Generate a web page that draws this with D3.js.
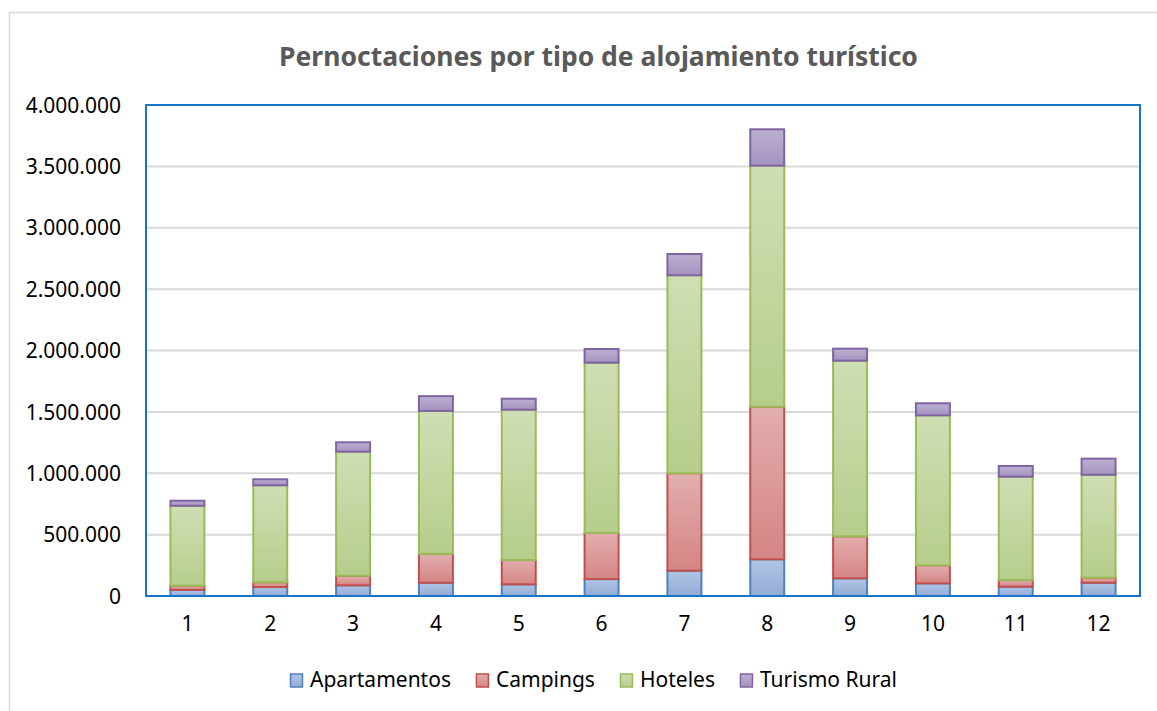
<!DOCTYPE html>
<html><head><meta charset="utf-8">
<script src="https://cdn.jsdelivr.net/npm/d3@7"></script>
<style>body{margin:0;background:#fff}svg{display:block}</style>
</head><body><svg id="c" width="1157" height="711"></svg>
<script>
const title = "Pernoctaciones por tipo de alojamiento turístico";
const months = ["1","2","3","4","5","6","7","8","9","10","11","12"];
const seriesNames = ["Apartamentos","Campings","Hoteles","Turismo Rural"];
const apartamentos = [50000,73000,87000,108000,95000,138000,206000,299000,144000,103000,76000,108000];
const campings     = [34000,39000,78000,235000,198000,375000,794000,1243000,342000,147000,54000,41000];
const hoteles      = [651000,790000,1011000,1165000,1225000,1388000,1613000,1964000,1431000,1222000,842000,839000];
const turismoRural = [41000,49000,76000,120000,89000,111000,173000,296000,98000,98000,87000,131000];
const yTicks = [0,500000,1000000,1500000,2000000,2500000,3000000,3500000,4000000];

const fills = [["#b0c4e3","#93acd7"],["#e2aeae","#d48584"],["#d0deb4","#b6cd8b"],["#bcb0d0","#a393bf"]];
const strokes = ["#4f81bd","#c0504d","#9bbb59","#8064a2"];
const FONT = "'Noto Sans', sans-serif";

const svg = d3.select("#c");
const defs = svg.append("defs");
fills.forEach((f,i)=>{
  const g = defs.append("linearGradient").attr("id","g"+i).attr("x1",0).attr("y1",0).attr("x2",0).attr("y2",1);
  g.append("stop").attr("offset","0%").attr("stop-color",f[0]);
  g.append("stop").attr("offset","100%").attr("stop-color",f[1]);
});

// outer frame
svg.append("rect").attr("x",9.5).attr("y",12.5).attr("width",1170).attr("height",720)
  .attr("fill","#fff").attr("stroke","#d9d9d9").attr("stroke-width",1.5);

const L=146, R=1140, T=105, B=596;
const x = d3.scaleBand().domain(months).range([L,R]).paddingInner(0.59).paddingOuter(0.295);
const y = d3.scaleLinear().domain([0,4000000]).range([B,T]);

// gridlines
svg.append("g").selectAll("line").data(yTicks.slice(1,-1)).join("line")
  .attr("x1",L).attr("x2",R).attr("y1",d=>y(d)).attr("y2",d=>y(d))
  .attr("stroke","#d9d9d9").attr("stroke-width",2);

// stacked data
const rows = months.map((m,i)=>({m, Apartamentos:apartamentos[i], Campings:campings[i], Hoteles:hoteles[i], "Turismo Rural":turismoRural[i]}));
const stack = d3.stack().keys(seriesNames)(rows);
stack.forEach((s,si)=>{
  svg.append("g").selectAll("rect").data(s).join("rect")
    .attr("x",d=>x(d.data.m)).attr("width",x.bandwidth())
    .attr("y",d=>y(d[1])).attr("height",d=>y(d[0])-y(d[1]))
    .attr("fill",`url(#g${si})`).attr("stroke",strokes[si]).attr("stroke-width",2);
});

// plot border
svg.append("rect").attr("x",L).attr("y",T).attr("width",R-L).attr("height",B-T)
  .attr("fill","none").attr("stroke","#1874c8").attr("stroke-width",2);

// y axis
const yAxis = d3.axisLeft(y).tickValues(yTicks).tickSize(0).tickPadding(25)
  .tickFormat(d=>d3.format(",")(d).replace(/,/g,"."));
const ya = svg.append("g").attr("transform",`translate(${L},0)`).call(yAxis);
ya.select(".domain").remove();
ya.selectAll("text").attr("font-family",FONT).attr("font-size",21).attr("fill","#000").attr("dy","0.34em");

// x axis
const xAxis = d3.axisBottom(x).tickSize(0).tickPadding(20);
const xa = svg.append("g").attr("transform",`translate(0,${B})`).call(xAxis);
xa.select(".domain").remove();
xa.selectAll("text").attr("font-family",FONT).attr("font-size",21).attr("fill","#000");

// title
const t = svg.append("text").attr("x",598.5).attr("y",66).attr("text-anchor","middle")
  .attr("font-family",FONT).attr("font-weight","bold").attr("font-size",24).attr("fill","#595959").text(title);
const tw = t.node().getComputedTextLength();
t.attr("font-size",24*639/tw);

// legend
const lg = svg.append("g");
let cx = 0;
const GAP = 25;
seriesNames.forEach((n,i)=>{
  const g = lg.append("g");
  g.append("rect").attr("x",0.5).attr("y",-6).attr("width",12).attr("height",13)
    .attr("fill",`url(#g${i})`).attr("stroke",strokes[i]).attr("stroke-width",1.5);
  const tx = g.append("text").attr("x",20).attr("y",0).attr("dy","0.35em")
    .attr("font-family",FONT).attr("font-size",21).attr("fill","#000").text(n);
  const w = 20 + tx.node().getComputedTextLength();
  g.attr("transform",`translate(${cx},0)`);
  cx += w + GAP;
});
const totalW = cx - GAP;
lg.attr("transform",`translate(${593.5-totalW/2},680)`);
</script></body></html>
